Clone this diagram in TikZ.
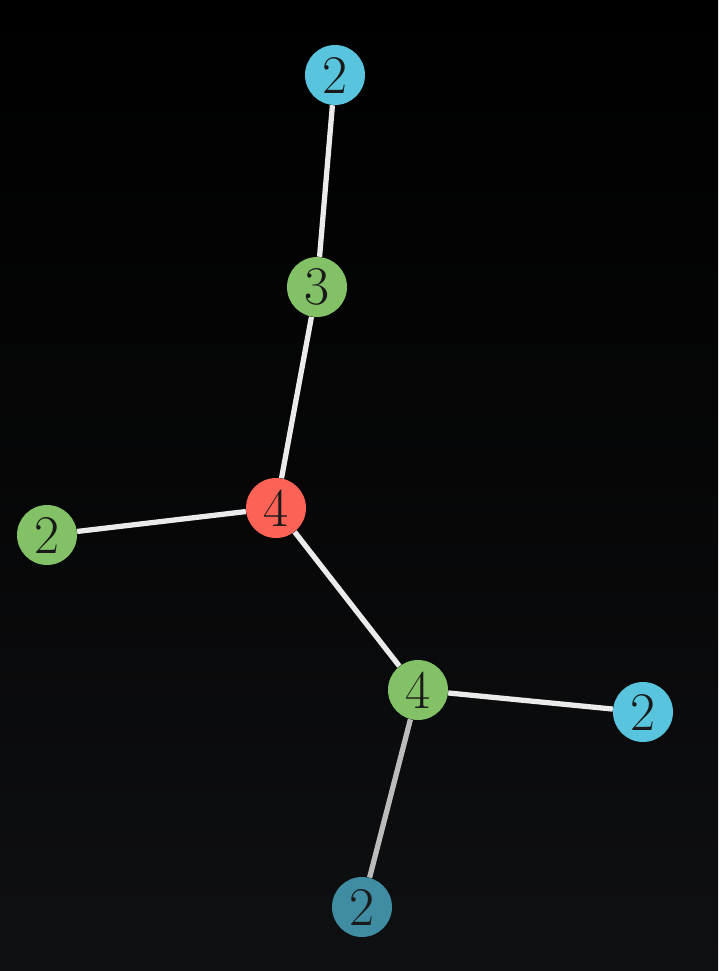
\documentclass[tikz,border=0pt]{standalone}
\usepackage{tikz}
\usetikzlibrary{positioning}
\definecolor{bgtop}{RGB}{0,0,0}
\definecolor{bgbottom}{RGB}{15,16,18}
\definecolor{leafblue}{RGB}{88,196,221}
\definecolor{dimblue}{RGB}{63,140,163}
\definecolor{vgreen}{RGB}{131,193,103}
\definecolor{vred}{RGB}{252,98,85}
\definecolor{edgecol}{RGB}{235,235,235}
\tikzset{
  vertex/.style={circle, fill=#1, minimum size=1.2cm, inner sep=0pt,
                 font=\fontsize{31}{36}\selectfont, text=black!90},
  vertex/.default=vgreen,
  edge/.style={line width=3pt, draw=edgecol},
}

\begin{document}
\begin{tikzpicture}[x=0.02cm, y=-0.02cm]

  % --- Background ---
  \shade[top color=bgtop, bottom color=bgbottom, middle color=bgtop!60!bgbottom]
    (0,0) rectangle (718,971);
  \useasboundingbox (0,0) rectangle (718,971);

  % --- Vertices ---
  \node[vertex=leafblue] (top) at (335,75) {2};
  \node[vertex=vgreen] (mid) at (317,287) {3};
  \node[vertex=vred] (center) at (276,508) {4};
  \node[vertex=vgreen] (left) at (47,535) {2};
  \node[vertex=vgreen] (hub) at (418,690) {4};
  \node[vertex=leafblue] (right) at (643,712) {2};
  \node[vertex=dimblue] (bottom) at (362,907) {2};

  % --- Edges ---
  \draw[edge] (top) -- (mid);
  \draw[edge] (mid) -- (center);
  \draw[edge] (center) -- (left);
  \draw[edge] (center) -- (hub);
  \draw[edge] (hub) -- (right);
  \draw[edge, draw=edgecol!80!black] (hub) -- (bottom);

\end{tikzpicture}
\end{document}
